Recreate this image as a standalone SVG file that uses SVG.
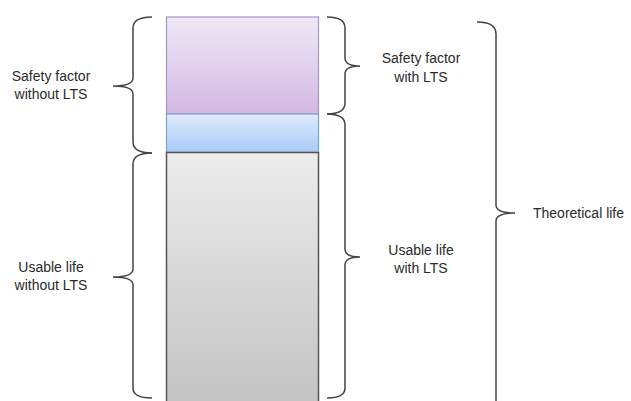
<svg xmlns="http://www.w3.org/2000/svg" width="631" height="401" viewBox="0 0 631 401">
  <style>
    .brace { fill: none; stroke: #444; stroke-width: 1.5; }
    .lbl { font-family: "Liberation Sans", Arial, sans-serif; font-size: 14px; fill: #2a2a2a; }
    .mid { text-anchor: middle; }
  </style>
  <defs>
    <linearGradient id="gPurple" x1="0" y1="0" x2="0" y2="1">
      <stop offset="0" stop-color="#eee9f6"/>
      <stop offset="1" stop-color="#d3b8e3"/>
    </linearGradient>
    <linearGradient id="gBlue" x1="0" y1="0" x2="0" y2="1">
      <stop offset="0" stop-color="#e0ebfb"/>
      <stop offset="1" stop-color="#a6c9f7"/>
    </linearGradient>
    <linearGradient id="gGray" x1="0" y1="0" x2="0" y2="1">
      <stop offset="0" stop-color="#ececec"/>
      <stop offset="1" stop-color="#c3c3c3"/>
    </linearGradient>
  </defs>

  <rect width="631" height="401" fill="#ffffff"/>

  <!-- stacked life bar -->
  <g id="bar">
    <rect id="seg-safety" x="166.5" y="17" width="152" height="97" fill="url(#gPurple)" stroke="#a596c8" stroke-width="1.2"/>
    <rect id="seg-lts" x="166.5" y="114" width="152" height="38.5" fill="url(#gBlue)" stroke="#7f9fcf" stroke-width="1.2"/>
    <rect id="seg-usable" x="166.5" y="152.5" width="152" height="252" fill="url(#gGray)" stroke="#555" stroke-width="1.5"/>
  </g>

  <!-- braces -->
  <g id="connectors">
    <path class="brace" d="M152,17 Q133,17 133,28 L133,78 Q133,86 113,86 Q133,86 133,94 L133,142 Q133,153 152,153"/>
    <path class="brace" d="M152,153 Q133,153 133,164 L133,269 Q133,277 113,277 Q133,277 133,285 L133,388 Q133,398 152,398"/>
    <path class="brace" d="M327,17 Q345,17 345,28 L345,58 Q345,66 360,66 Q345,66 345,74 L345,103 Q345,114 327,114"/>
    <path class="brace" d="M327,114 Q345,114 345,125 L345,249 Q345,257 360,257 Q345,257 345,265 L345,388 Q345,398 327,398"/>
    <path class="brace" d="M477,22 Q496,22 496,34 L496,205 Q496,213 515,213 Q496,213 496,221 L496,410"/>
  </g>

  <g id="label-safety-without">
    <text class="lbl mid" x="51" y="81">Safety factor</text>
    <text class="lbl mid" x="51" y="99">without LTS</text>
  </g>
  <g id="label-usable-without">
    <text class="lbl mid" x="51" y="272">Usable life</text>
    <text class="lbl mid" x="51" y="290">without LTS</text>
  </g>
  <g id="label-safety-with">
    <text class="lbl mid" x="421" y="63">Safety factor</text>
    <text class="lbl mid" x="421" y="82">with LTS</text>
  </g>
  <g id="label-usable-with">
    <text class="lbl mid" x="421" y="255">Usable life</text>
    <text class="lbl mid" x="421" y="273">with LTS</text>
  </g>
  <g id="label-theoretical">
    <text class="lbl" x="533" y="218">Theoretical life</text>
  </g>
</svg>
